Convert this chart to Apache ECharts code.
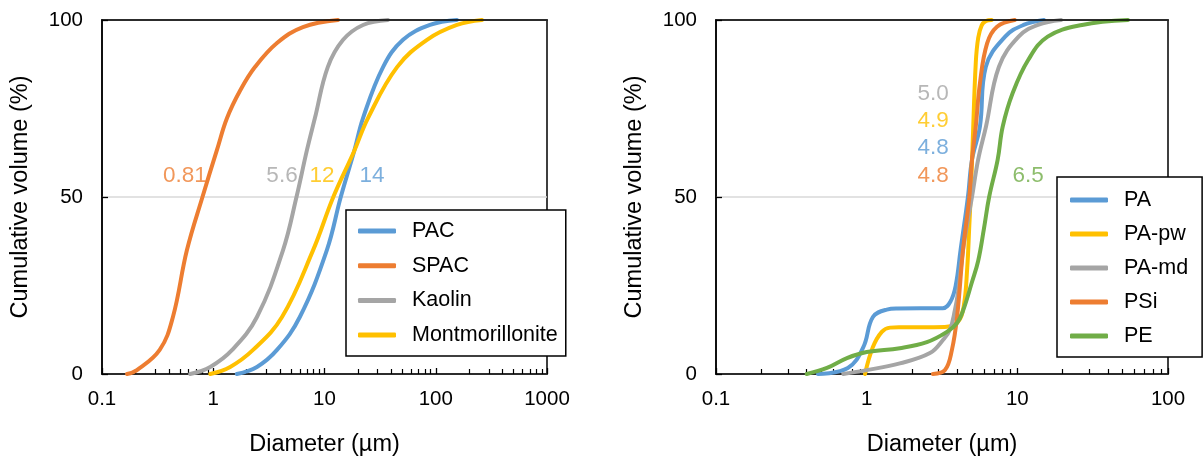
<!DOCTYPE html>
<html><head><meta charset="utf-8">
<script src="https://cdn.jsdelivr.net/npm/echarts@6/dist/echarts.min.js"></script>
<style>html,body{margin:0;padding:0;background:#fff}#c{width:1203px;height:468px}</style>
</head><body><div id="c"></div>
<script>
// ---- Left chart data (diameter µm, cumulative volume %) ----
const pacD  = [1.63, 2.47, 3.74, 6.0, 10.5, 14, 18.5, 22.2, 33.6, 50.8, 88.7, 155];
const pacV  = [0, 2, 6.8, 16.1, 35, 50, 63, 72.3, 86.7, 94.4, 98.6, 100];
const spacD = [0.168, 0.206, 0.33, 0.434, 0.58, 0.80, 1.08, 1.33, 1.74, 2.37, 3.74, 6.4, 13.2];
const spacV = [0, 1.1, 6.8, 16.1, 35, 50, 63.3, 72.3, 80, 86.7, 93.5, 98, 100];
const kaoD  = [0.62, 0.94, 1.48, 2.47, 4.24, 5.6, 6.96, 8.2, 10.7, 14.7, 22.2, 37.2];
const kaoV  = [0, 2, 6.8, 16.1, 35, 50, 63.3, 72.3, 86.7, 94.4, 98.6, 100];
const monD  = [0.94, 1.42, 2.28, 4.15, 7.9, 12, 18.5, 24.6, 44.9, 83.4, 155, 260];
const monV  = [0, 2, 6.8, 16.1, 35, 50, 63, 72.3, 86.7, 94.4, 98.6, 100];

// ---- Right chart data ----
const paD   = [0.475, 0.75, 0.95, 1.10, 1.36, 1.6, 3.2, 3.6, 3.9, 4.2, 4.7, 5.0, 5.65, 6.18, 8.3, 11, 15];
const paV   = [0, 1.7, 7.6, 16.1, 18.2, 18.5, 18.6, 20.5, 25, 35, 50, 60.5, 70, 86.8, 95.3, 98.6, 100];
const pawD  = [0.975, 1.1, 1.26, 1.43, 1.7, 3.3, 4.0, 4.4, 4.65, 4.8, 4.9, 5.05, 5.3, 5.5, 5.8, 6.2, 6.75];
const pawV  = [0, 7.6, 11.9, 13.1, 13.2, 13.3, 14.5, 19, 30, 42, 50, 65, 88, 95, 98.5, 99.7, 100];
const pamD  = [0.70, 1.0, 1.66, 2.63, 3.21, 3.57, 3.85, 4.04, 4.36, 4.63, 5.0, 5.49, 6.2, 7.55, 10.2, 13.7, 19.5];
const pamV  = [0, 1.1, 3, 5.9, 9.6, 12.5, 18, 23, 35, 42, 50, 60.5, 70, 86.8, 95.3, 98.6, 100];
const psiD  = [2.75, 3.31, 3.68, 3.98, 4.36, 4.8, 5.0, 5.3, 5.65, 6.3, 7.33, 9.6];
const psiV  = [0, 1.1, 6.8, 16.1, 35, 50, 60.5, 70, 82.2, 93.4, 98.1, 100];
const peD   = [0.40, 0.545, 0.74, 1.0, 1.66, 2.51, 3.41, 3.98, 4.37, 5.0, 5.5, 6.0, 6.5, 7.4, 8.0, 9.3, 11.8, 15.9, 26.9, 54.2];
const peV   = [0, 1.7, 4.5, 6.2, 7.3, 9, 11.9, 14.4, 18, 26, 32, 41, 50, 60.5, 69.9, 79.3, 88.7, 95.3, 98.6, 100];

// ---- Median annotations (text, x in µm, y in %) ----
const annLText = ['0.81', '5.6', '12', '14'];
const annLX    = [0.557, 4.15, 9.5, 26.7];
const annLY    = [55.9, 55.9, 55.9, 55.9];
const annRText = ['5.0', '4.9', '4.8', '4.8', '6.5'];
const annRX    = [2.76, 2.76, 2.76, 2.76, 11.8];
const annRY    = [79.1, 71.5, 63.8, 55.9, 55.9];

// ---- Tick labels ----
const leftXTicks  = ['0.1', '1', '10', '100', '1000'];
const rightXTicks = ['0.1', '1', '10', '100'];
const yTicks      = ['0', '50', '100'];

const C = {blue:'#5B9BD5', orange:'#ED7D31', grey:'#A5A5A5', yellow:'#FFC000', green:'#70AD47'};
const FONT = '"Liberation Sans", Arial, sans-serif';

function pairs(d, v){ return d.map((x,i)=>[x, v[i]]); }
function minorVals(maxExp){ const out=[]; for(let e=-1;e<maxExp;e++){ for(let k=2;k<=9;k++){ out.push(+(k*Math.pow(10,e)).toPrecision(3)); } } return out; }

function line(name, d, v, color, gi){
  return {type:'line', name, xAxisIndex: gi*3, yAxisIndex: gi, data: pairs(d,v), showSymbol:false, symbol:'none',
    smooth:0.4, color, lineStyle:{width:4, color, cap:'round', join:'round'}, z:3};
}
function ann(texts, xs, ys, colors, gi){
  return {type:'scatter', xAxisIndex: gi*3, yAxisIndex: gi, symbolSize:1, silent:true, z:4,
    itemStyle:{color:'transparent'},
    data: texts.map((t,i)=>({value:[xs[i], ys[i]], name:t, label:{color:colors[i]}})),
    label:{show:true, position:'inside', formatter:p=>p.name, fontSize:22.5, fontFamily:FONT}};
}
function xMain(gi, max, ticks){
  return {type:'log', logBase:10, gridIndex:gi, min:0.1, max, position:'bottom',
    name:'Diameter (µm)', nameLocation:'middle', nameGap:59,
    nameTextStyle:{fontSize:23.5, color:'#000', fontFamily:FONT},
    axisLine:{show:true, onZero:false, lineStyle:{color:'#000', width:1.5}},
    axisTick:{show:true, inside:true, length:6, lineStyle:{color:'#000', width:1.3}},
    axisLabel:{fontSize:20.5, color:'#000', fontFamily:FONT, margin:15,
      formatter:(v)=>{ const i=Math.round(Math.log10(v))+1; return ticks[i]!==undefined?ticks[i]:''; }},
    splitLine:{show:false}};
}
function xMinor(gi, max, maxExp){
  return {type:'log', logBase:10, gridIndex:gi, min:0.1, max, position:'bottom',
    axisLine:{show:false}, axisLabel:{show:false}, splitLine:{show:false},
    axisTick:{show:true, inside:true, length:5, customValues: minorVals(maxExp), lineStyle:{color:'#000', width:1.2}}};
}
function xTop(gi, max){
  return {type:'log', logBase:10, gridIndex:gi, min:0.1, max, position:'top', z:10,
    axisLine:{show:true, onZero:false, lineStyle:{color:'#000', width:1.5}},
    axisTick:{show:false}, axisLabel:{show:false}, splitLine:{show:false}};
}
function yAx(gi){
  return {type:'value', gridIndex:gi, min:0, max:100, interval:50,
    name:'Cumulative volume (%)', nameLocation:'middle', nameGap:69,
    nameTextStyle:{fontSize:23.5, color:'#000', fontFamily:FONT},
    axisLine:{show:true, lineStyle:{color:'#000', width:1.5}},
    axisTick:{show:true, inside:true, length:6, lineStyle:{color:'#000', width:1.3}},
    axisLabel:{fontSize:20.5, color:'#000', fontFamily:FONT, margin:19, formatter:(v)=>yTicks[Math.round(v/50)]},
    splitLine:{show:true, lineStyle:{color:'#D9D9D9', width:1.5}}};
}
function legend(names, left, top, padding, gap){
  return {data:names, orient:'vertical', left, top, padding, itemGap:gap, itemWidth:38, itemHeight:5,
    icon:'roundRect', backgroundColor:'#fff', borderColor:'#000', borderWidth:1.5, borderRadius:0,
    selectedMode:false, textStyle:{fontSize:21.5, lineHeight:21, color:'#000', fontFamily:FONT, padding:[0,0,0,11]}};
}

const chart = echarts.init(document.getElementById('c'), null, {renderer:'canvas'});
chart.setOption({
  animation:false,
  textStyle:{fontFamily:FONT},
  grid:[
    {left:102, top:20, width:445, height:354, show:true, borderColor:'#000', borderWidth:1.5, backgroundColor:'transparent'},
    {left:716, top:20, width:452, height:354, show:true, borderColor:'#000', borderWidth:1.5, backgroundColor:'transparent'}
  ],
  xAxis:[ xMain(0,1000,leftXTicks), xMinor(0,1000,3), xTop(0,1000), xMain(1,100,rightXTicks), xMinor(1,100,2), xTop(1,100) ],
  yAxis:[ yAx(0), yAx(1) ],
  legend:[
    legend(['PAC','SPAC','Kaolin','Montmorillonite'], 346, 210, [10,8,10,12], 12.7),
    legend(['PA','PA-pw','PA-md','PSi','PE'], 1057, 177, [12,14,10,13], 12)
  ],
  series:[
    line('PAC', pacD, pacV, C.blue, 0),
    line('SPAC', spacD, spacV, C.orange, 0),
    line('Kaolin', kaoD, kaoV, C.grey, 0),
    line('Montmorillonite', monD, monV, C.yellow, 0),
    ann(annLText, annLX, annLY, [C.orange, C.grey, C.yellow, C.blue], 0),
    line('PA', paD, paV, C.blue, 1),
    line('PA-pw', pawD, pawV, C.yellow, 1),
    line('PA-md', pamD, pamV, C.grey, 1),
    line('PSi', psiD, psiV, C.orange, 1),
    line('PE', peD, peV, C.green, 1),
    ann(annRText, annRX, annRY, [C.grey, C.yellow, C.blue, C.orange, C.green], 1)
  ]
});
</script></body></html>
